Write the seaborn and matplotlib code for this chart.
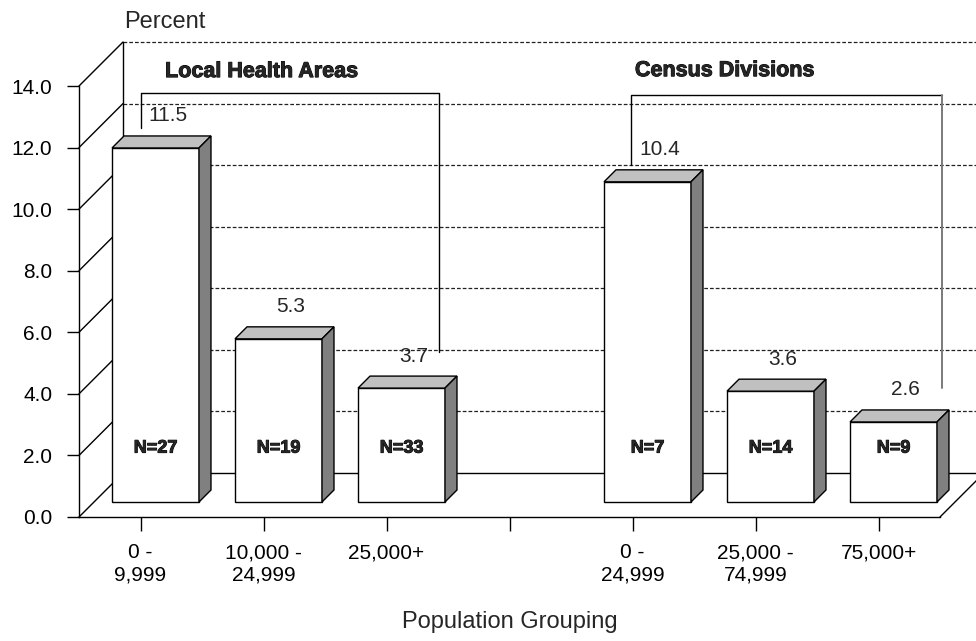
import numpy as np
import pandas as pd
import matplotlib
matplotlib.use("Agg")
import matplotlib.pyplot as plt
import matplotlib.patheffects as pe
from matplotlib.patches import Polygon
import seaborn as sns

# ---- data ----
slot_labels = ["0 -\n9,999", "10,000 -\n24,999", "25,000+", "",
               "0 -\n24,999", "25,000 -\n74,999", "75,000+"]
bar_slots = [0, 1, 2, 4, 5, 6]
percent = [11.5, 5.3, 3.7, 10.4, 3.6, 2.6]
counts = ["N=27", "N=19", "N=33", "N=7", "N=14", "N=9"]
groups = ["Local Health Areas", "Census Divisions"]
y_ticks = [0, 2, 4, 6, 8, 10, 12, 14]

sns.set_style("white")
plt.rcParams["font.family"] = ["Liberation Sans", "DejaVu Sans"]

W, H = 976, 641
fig = plt.figure(figsize=(W / 100, H / 100), dpi=100)
ax = fig.add_axes([79 / W, 124 / H, 861 / W, 431 / H])
ax.set_xlim(-0.5, 6.5)
ax.set_ylim(0, 14)

# pixel scale of the front plane
PX_X = 861 / 7.0
PX_Y = 431 / 14.0
DX, DY = 44 / PX_X, 44 / PX_Y          # full depth of the box
DXF, DYF = 15 / PX_X, 15 / PX_Y        # bar front offset
BDX, BDY = 12 / PX_X, 12 / PX_Y        # bar depth

df = pd.DataFrame({"slot": bar_slots, "pct": percent})
sns.barplot(data=df, x="slot", y="pct", native_scale=True, width=0.707,
            color="white", edgecolor="black", linewidth=1.0, ax=ax,
            errorbar=None, zorder=3)

# back wall, left wall and floor
lk = dict(color="black", lw=1.0, clip_on=False)
x0, x1 = -0.5, 6.5
for k in y_ticks:
    ax.plot([x0, x0 + DX], [k, k + DY], zorder=1, **lk)
    if k == 0:
        ax.plot([x0 + DX, x1 + DX], [DY, DY], zorder=0.5, **lk)
    else:
        ax.plot([x0 + DX, x1 + DX], [k + DY, k + DY], color="#222222",
                lw=0.9, ls=(0, (3, 1.6)), clip_on=False, zorder=0.5)
ax.plot([x0 + DX, x0 + DX], [DY, 14 + DY], zorder=1, **lk)
ax.plot([x1, x1 + DX], [0, DY], zorder=1, **lk)

# 3-D bars: shift the fronts back and add top and side faces
for p in ax.patches[:]:
    p.set_x(p.get_x() + DXF)
    p.set_y(DYF)
    xl, w, h = p.get_x(), p.get_width(), p.get_height()
    xr, yt, yb = xl + w, DYF + h, DYF
    top = Polygon([(xl, yt), (xr, yt), (xr + BDX, yt + BDY), (xl + BDX, yt + BDY)],
                  closed=True, facecolor="#c0c0c0", edgecolor="black",
                  lw=1.0, zorder=3, clip_on=False)
    side = Polygon([(xr, yb), (xr, yt), (xr + BDX, yt + BDY), (xr + BDX, yb + BDY)],
                   closed=True, facecolor="#808080", edgecolor="black",
                   lw=1.0, zorder=3, clip_on=False)
    ax.add_patch(top)
    ax.add_patch(side)
    p.set_clip_on(False)

heavy = [pe.withStroke(linewidth=0.7, foreground="black")]

# value and count labels
for s, v, n in zip(bar_slots, percent, counts):
    ax.text(s + DXF + BDX, v + DYF + 1.04, f"{v:.1f}", ha="center",
            va="center", fontsize=15, zorder=5)
    ax.text(s + DXF, DYF + 1.75, n, ha="center", va="center", fontsize=13,
            fontweight="bold", zorder=5, path_effects=heavy)

# group titles
for gx, gy, g in zip([0.2, 4.02], [14.29, 14.32], groups):
    ax.text(gx, gy, g, ha="left", va="baseline", fontsize=15.5,
            fontweight="bold", clip_on=False, zorder=5, path_effects=heavy)

# group brackets
ax.plot([0.0, 0.0, 2.43, 2.43], [12.63, 13.78, 13.78, 5.36], color="black",
        lw=1.0, clip_on=False, zorder=4)
ax.plot([3.99, 3.99, 6.52], [11.43, 13.71, 13.71], color="black",
        lw=1.0, clip_on=False, zorder=4)
ax.plot([6.52, 6.52], [13.71, 4.19], color="#7a7a7a", lw=1.4,
        clip_on=False, zorder=4)

# axes
ax.set_xticks(range(len(slot_labels)))
ax.set_xticklabels(slot_labels, fontsize=15, linespacing=1.2)
ax.set_yticks(y_ticks)
ax.set_yticklabels([f"{t:.1f}" for t in y_ticks], fontsize=15)
ax.tick_params(axis="x", direction="out", length=10, width=1, pad=9,
               colors="black", bottom=True)
ax.tick_params(axis="y", direction="out", length=8.6, width=1, pad=10.5,
               colors="black", left=True)
for side_name in ["top", "right"]:
    ax.spines[side_name].set_visible(False)
for side_name in ["left", "bottom"]:
    ax.spines[side_name].set_color("black")
    ax.spines[side_name].set_linewidth(1.0)
ax.set_xlabel("Population Grouping", fontsize=17, labelpad=19)
ax.set_ylabel("")
ax.grid(False)
ax.set_facecolor("none")

fig.text(124 / W, 1 - 28.3 / H, "Percent", ha="left", va="baseline",
         fontsize=17)

fig.savefig("out.png", dpi=100, facecolor="white")
